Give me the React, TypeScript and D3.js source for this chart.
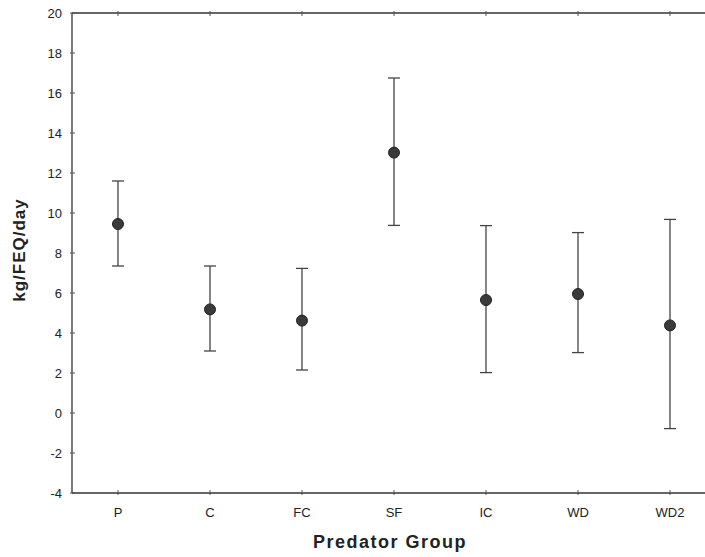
import React from "react";
import * as d3 from "d3";

const categories = ["P", "C", "FC", "SF", "IC", "WD", "WD2"];
const means = [9.45, 5.18, 4.62, 13.02, 5.65, 5.95, 4.38];
const upper = [11.6, 7.35, 7.23, 16.75, 9.37, 9.02, 9.68];
const lower = [7.35, 3.1, 2.15, 9.38, 2.02, 3.02, -0.78];
const yTicks = [-4, -2, 0, 2, 4, 6, 8, 10, 12, 14, 16, 18, 20];

const W = 705;
const H = 557;
const left = 72;
const top = 13;
const bottom = 493;

export default function App() {
  const x = d3.scaleBand<string>().domain(categories).range([left, left + 7 * 92]).padding(0);
  const y = d3.scaleLinear().domain([-4, 20]).range([bottom, top]);
  const cx = (c: string) => (x(c) as number) + x.bandwidth() / 2;
  const font = "'Liberation Sans', Arial, sans-serif";
  const lineColor = "#444";
  return (
    <svg width={W} height={H} style={{ position: "absolute", left: 0, top: 0, background: "#fff" }} fontFamily={font}>
      <rect x={0} y={0} width={W} height={H} fill="#fff" />
      <line x1={left} x2={W} y1={top} y2={top} stroke="#333" strokeWidth={1.3} />
      <line x1={left} x2={W} y1={bottom} y2={bottom} stroke="#333" strokeWidth={1.3} />
      <line x1={left} x2={left} y1={top} y2={bottom} stroke="#333" strokeWidth={1.3} />
      {yTicks.map((t) => (
        <g key={t}>
          <line x1={left - 2} x2={left + 3} y1={y(t)} y2={y(t)} stroke="#555" strokeWidth={1} />
          <text x={62} y={y(t)} dy="0.35em" textAnchor="end" fontSize={13} fill="#222">
            {t}
          </text>
        </g>
      ))}
      {categories.map((c) => (
        <g key={c}>
          <line x1={cx(c)} x2={cx(c)} y1={bottom - 3} y2={bottom + 2} stroke="#555" strokeWidth={1} />
          <line x1={cx(c)} x2={cx(c)} y1={top - 2} y2={top + 3} stroke="#555" strokeWidth={1} />
          <text x={cx(c)} y={517} textAnchor="middle" fontSize={13} fill="#222">
            {c}
          </text>
        </g>
      ))}
      {categories.map((c, i) => (
        <g key={"e" + c}>
          <line x1={cx(c)} x2={cx(c)} y1={y(upper[i])} y2={y(lower[i])} stroke={lineColor} strokeWidth={1.3} />
          <line x1={cx(c) - 6} x2={cx(c) + 6} y1={y(upper[i])} y2={y(upper[i])} stroke={lineColor} strokeWidth={1.3} />
          <line x1={cx(c) - 6} x2={cx(c) + 6} y1={y(lower[i])} y2={y(lower[i])} stroke={lineColor} strokeWidth={1.3} />
          <circle cx={cx(c)} cy={y(means[i])} r={5.5} fill="#3a3a3a" stroke="#222" strokeWidth={1} />
        </g>
      ))}
      <text
        transform={`translate(25,${250}) rotate(-90)`}
        textAnchor="middle"
        fontSize={17}
        fontWeight="bold"
        letterSpacing={1}
        fill="#222"
      >
        kg/FEQ/day
      </text>
      <text x={390} y={548} textAnchor="middle" fontSize={18} fontWeight="bold" letterSpacing={1.5} fill="#222">
        Predator Group
      </text>
    </svg>
  );
}
